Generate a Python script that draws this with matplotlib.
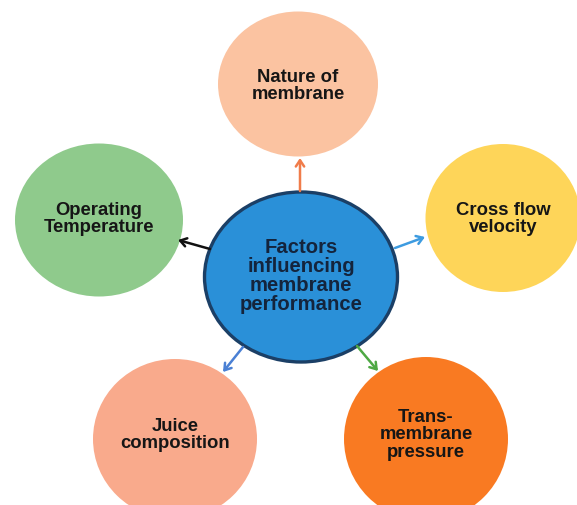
import matplotlib
matplotlib.use("Agg")
import matplotlib.pyplot as plt
from matplotlib.patches import Ellipse

# hub and the five factors around it
hub_label = "Factors\ninfluencing\nmembrane\nperformance"
factor_labels = ["Nature of\nmembrane", "Cross flow\nvelocity", "Trans-\nmembrane\npressure",
                 "Juice\ncomposition", "Operating\nTemperature"]

# layout (pixel coordinates, y down)
hub_xy = (301, 278)
hub_size = (193, 170)
factor_xy = [(298, 85), (503, 219), (426, 440), (175, 440), (99, 221)]
factor_text_y = [86, 219, 435, 435, 219]
factor_size = [(160, 145), (155, 148), (164, 164), (164, 160), (168, 153)]
factor_colors = ["#fbc3a1", "#fed559", "#f97a22", "#f9aa8c", "#8fca8c"]
arrow_from = [(300, 192), (395, 249), (357, 347), (243, 348), (210, 250)]
arrow_to = [(300, 159), (425, 238), (378, 372), (223, 373), (178, 241)]
arrow_colors = ["#f07c4a", "#3d9be0", "#4ea844", "#4a80d4", "#111111"]

plt.rcParams["font.family"] = ["Liberation Sans", "DejaVu Sans"]

fig = plt.figure(figsize=(5.77, 5.06), dpi=100)
ax = fig.add_axes([0, 0, 1, 1])
ax.set_xlim(0, 577)
ax.set_ylim(506, 0)
ax.set_aspect("equal")
ax.axis("off")

for (x, y), ty, (w, h), c, lab in zip(factor_xy, factor_text_y, factor_size,
                                       factor_colors, factor_labels):
    ax.add_patch(Ellipse((x, y), w, h, facecolor=c, edgecolor="none", zorder=1))
    ax.text(x, ty, lab, ha="center", va="center", fontsize=13.3, fontweight="bold",
            color="#161616", linespacing=1.02, zorder=3)

ax.add_patch(Ellipse(hub_xy, hub_size[0], hub_size[1], facecolor="#2a90d8",
                     edgecolor="#1b3f66", linewidth=2.4, zorder=2))
ax.text(hub_xy[0], 276, hub_label, ha="center", va="center", fontsize=14.6,
        fontweight="bold", color="#14243c", linespacing=1.0, zorder=3)

for p0, p1, c in zip(arrow_from, arrow_to, arrow_colors):
    ax.annotate("", xy=p1, xytext=p0, zorder=4,
                arrowprops=dict(arrowstyle="->,head_length=0.45,head_width=0.3",
                                color=c, lw=1.8, shrinkA=0, shrinkB=0))

fig.savefig("out.png", dpi=100)
